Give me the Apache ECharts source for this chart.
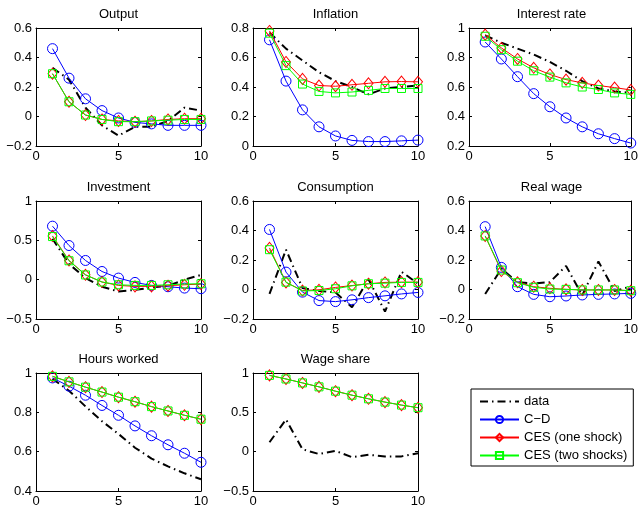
<!DOCTYPE html>
<html><head><meta charset="utf-8">
<script src="https://cdn.jsdelivr.net/npm/echarts@6/dist/echarts.min.js"></script>
<style>html,body{margin:0;padding:0;background:#fff}#c{width:641px;height:509px}</style>
</head><body><div id="c"></div><script>
const periods = [1, 2, 3, 4, 5, 6, 7, 8, 9, 10];
const seriesNames = ['data', 'C\u2212D', 'CES (one shock)', 'CES (two shocks)'];
const panelTitles = ['Output', 'Inflation', 'Interest rate', 'Investment', 'Consumption', 'Real wage', 'Hours worked', 'Wage share'];
const yMins = [-0.2, 0, 0.2, -0.5, -0.2, -0.2, 0.4, -0.5];
const yMaxs = [0.6, 0.8, 1, 1, 0.6, 0.6, 1, 1];
const yIntervals = [0.2, 0.2, 0.2, 0.5, 0.2, 0.2, 0.2, 0.5];
const xTicks = [0, 5, 10];

const output_data = [0.33, 0.25, 0.06, -0.06, -0.13, -0.07, -0.07, -0.03, 0.06, 0.04];
const output_cd   = [0.46, 0.26, 0.12, 0.04, -0.01, -0.04, -0.05, -0.06, -0.06, -0.06];
const output_ces1 = [0.29, 0.10, 0.01, -0.02, -0.03, -0.035, -0.03, -0.02, -0.015, -0.015];
const output_ces2 = [0.29, 0.10, 0.01, -0.02, -0.035, -0.035, -0.03, -0.025, -0.02, -0.02];

const inflation_data = [0.77, 0.66, 0.58, 0.50, 0.44, 0.40, 0.35, 0.39, 0.40, 0.41];
const inflation_cd   = [0.72, 0.44, 0.245, 0.13, 0.068, 0.038, 0.03, 0.03, 0.035, 0.04];
const inflation_ces1 = [0.78, 0.57, 0.455, 0.41, 0.405, 0.415, 0.425, 0.435, 0.437, 0.435];
const inflation_ces2 = [0.765, 0.545, 0.42, 0.37, 0.36, 0.366, 0.377, 0.39, 0.39, 0.39];

const interest_data = [0.95, 0.90, 0.86, 0.82, 0.77, 0.71, 0.64, 0.59, 0.57, 0.56];
const interest_cd   = [0.905, 0.79, 0.67, 0.555, 0.466, 0.39, 0.33, 0.283, 0.25, 0.22];
const interest_ces1 = [0.955, 0.865, 0.79, 0.73, 0.685, 0.65, 0.628, 0.61, 0.596, 0.58];
const interest_ces2 = [0.944, 0.853, 0.775, 0.71, 0.667, 0.628, 0.60, 0.583, 0.56, 0.55];

const investment_data = [0.52, 0.20, 0.02, -0.09, -0.15, -0.13, -0.10, -0.08, 0.00, 0.06];
const investment_cd   = [0.68, 0.434, 0.244, 0.104, 0.02, -0.035, -0.073, -0.09, -0.107, -0.115];
const investment_ces1 = [0.556, 0.244, 0.062, -0.03, -0.073, -0.085, -0.085, -0.077, -0.065, -0.056];
const investment_ces2 = [0.548, 0.24, 0.06, -0.03, -0.065, -0.073, -0.073, -0.065, -0.055, -0.052];

const consumption_data = [-0.03, 0.27, 0.01, -0.01, -0.02, -0.12, 0.07, -0.15, 0.12, 0.04];
const consumption_cd   = [0.407, 0.118, -0.018, -0.075, -0.082, -0.07, -0.055, -0.043, -0.03, -0.02];
const consumption_ces1 = [0.282, 0.048, -0.007, -0.002, 0.014, 0.027, 0.039, 0.048, 0.05, 0.05];
const consumption_ces2 = [0.27, 0.05, -0.01, -0.007, 0.005, 0.025, 0.039, 0.043, 0.048, 0.048];

const realwage_data = [-0.03, 0.14, 0.05, 0.04, 0.05, 0.16, -0.04, 0.19, -0.01, 0.02];
const realwage_cd   = [0.426, 0.15, 0.019, -0.033, -0.049, -0.044, -0.037, -0.033, -0.03, -0.026];
const realwage_ces1 = [0.363, 0.125, 0.049, 0.019, 0.008, 0.001, -0.003, -0.003, -0.003, -0.008];
const realwage_ces2 = [0.363, 0.132, 0.046, 0.015, 0.003, 0.001, -0.003, -0.003, -0.003, -0.008];

const hours_data = [0.97, 0.91, 0.83, 0.755, 0.69, 0.62, 0.565, 0.525, 0.49, 0.46];
const hours_cd   = [0.975, 0.933, 0.887, 0.835, 0.785, 0.731, 0.681, 0.635, 0.592, 0.546];
const hours_ces1 = [0.983, 0.955, 0.928, 0.903, 0.877, 0.854, 0.829, 0.807, 0.785, 0.765];
const hours_ces2 = [0.983, 0.955, 0.928, 0.903, 0.877, 0.854, 0.829, 0.807, 0.785, 0.765];

const wageshare_data = [0.12, 0.41, 0.03, -0.03, 0.01, -0.07, -0.04, -0.06, -0.06, -0.02];
const wageshare_cd   = null;
const wageshare_ces1 = [0.97, 0.924, 0.874, 0.824, 0.769, 0.718, 0.672, 0.63, 0.592, 0.559];
const wageshare_ces2 = [0.97, 0.924, 0.874, 0.824, 0.769, 0.718, 0.672, 0.63, 0.592, 0.559];

const panelSeries = [
  [output_data, output_cd, output_ces1, output_ces2],
  [inflation_data, inflation_cd, inflation_ces1, inflation_ces2],
  [interest_data, interest_cd, interest_ces1, interest_ces2],
  [investment_data, investment_cd, investment_ces1, investment_ces2],
  [consumption_data, consumption_cd, consumption_ces1, consumption_ces2],
  [realwage_data, realwage_cd, realwage_ces1, realwage_ces2],
  [hours_data, hours_cd, hours_ces1, hours_ces2],
  [wageshare_data, wageshare_cd, wageshare_ces1, wageshare_ces2]
];

const FONT = '"Liberation Sans", Arial, Helvetica, sans-serif';
const colLefts = [36, 253, 469];
const rowTops = [28, 201, 373];
const gW = 165, gH = 118;

const styles = [
  { color: '#000000', symbol: 'none', symbolSize: 0, lw: 2, type: [8, 4, 1.5, 4] },
  { color: '#0000ff', symbol: 'circle', symbolSize: 10, lw: 1, type: 'solid' },
  { color: '#ff0000', symbol: 'diamond', symbolSize: [9, 11], lw: 1, type: 'solid' },
  { color: '#00ff00', symbol: 'rect', symbolSize: 8, lw: 1, type: 'solid' }
];

function fmt(v) {
  const s = String(+(+v).toFixed(2));
  return s.replace('-', '\u2212');
}

const grids = [], xAxes = [], yAxes = [], titles = [], series = [];
panelTitles.forEach((t, i) => {
  const left = colLefts[i % 3], top = rowTops[Math.floor(i / 3)];
  grids.push({ left: left, top: top, width: gW, height: gH, containLabel: false });
  titles.push({
    text: t, left: left + gW / 2, top: top - 20, textAlign: 'center', padding: 0,
    textStyle: { fontFamily: FONT, fontSize: 13, fontWeight: 'normal', color: '#000' }
  });
  const axLine = { show: true, onZero: false, lineStyle: { color: '#000', width: 1 } };
  const tick = { show: true, inside: true, length: 3, lineStyle: { color: '#000' } };
  [false, true].forEach(sec => {
    xAxes.push({
      type: 'value', gridIndex: i, min: xTicks[0], max: xTicks[xTicks.length - 1], interval: xTicks[1] - xTicks[0],
      position: sec ? 'top' : 'bottom',
      axisLine: axLine, axisTick: tick, splitLine: { show: false },
      axisLabel: { show: !sec, margin: 4, fontFamily: FONT, fontSize: 13, color: '#000', formatter: fmt }
    });
    yAxes.push({
      type: 'value', gridIndex: i, min: yMins[i], max: yMaxs[i], interval: yIntervals[i],
      position: sec ? 'right' : 'left',
      axisLine: axLine, axisTick: tick, splitLine: { show: false },
      axisLabel: { show: !sec, margin: 4, fontFamily: FONT, fontSize: 13, color: '#000', formatter: fmt }
    });
  });
  panelSeries[i].forEach((vals, k) => {
    if (!vals) return;
    const st = styles[k];
    series.push({
      name: seriesNames[k], type: 'line', xAxisIndex: 2 * i, yAxisIndex: 2 * i,
      data: periods.map((p, j) => [p, vals[j]]),
      color: st.color,
      symbol: st.symbol, symbolSize: st.symbolSize, showSymbol: st.symbol !== 'none',
      lineStyle: { color: st.color, width: st.lw, type: st.type, cap: 'butt' },
      itemStyle: { color: 'rgba(0,0,0,0)', borderColor: st.color, borderWidth: 1 },
      emphasis: { disabled: true }, silent: true, animation: false, z: 2 + k
    });
  });
});

const legendItems = seriesNames.map((n, k) => k === 0
  ? { name: n, itemStyle: { color: 'rgba(0,0,0,0)', borderColor: 'rgba(0,0,0,0)', borderWidth: 0 } }
  : { name: n });

const chart = echarts.init(document.getElementById('c'), null, { renderer: 'canvas' });
chart.setOption({
  backgroundColor: '#ffffff',
  animation: false,
  title: titles,
  grid: grids,
  xAxis: xAxes,
  yAxis: yAxes,
  legend: {
    data: legendItems, orient: 'vertical', left: 471, top: 389,
    padding: [6, 6, 4, 8], itemGap: 5, itemWidth: 39, itemHeight: 9,
    borderColor: '#000', borderWidth: 1, backgroundColor: '#fff', borderRadius: 0,
    selectedMode: false,
    textStyle: { fontFamily: FONT, fontSize: 13, color: '#000' }
  },
  series: series
});
</script></body></html>
